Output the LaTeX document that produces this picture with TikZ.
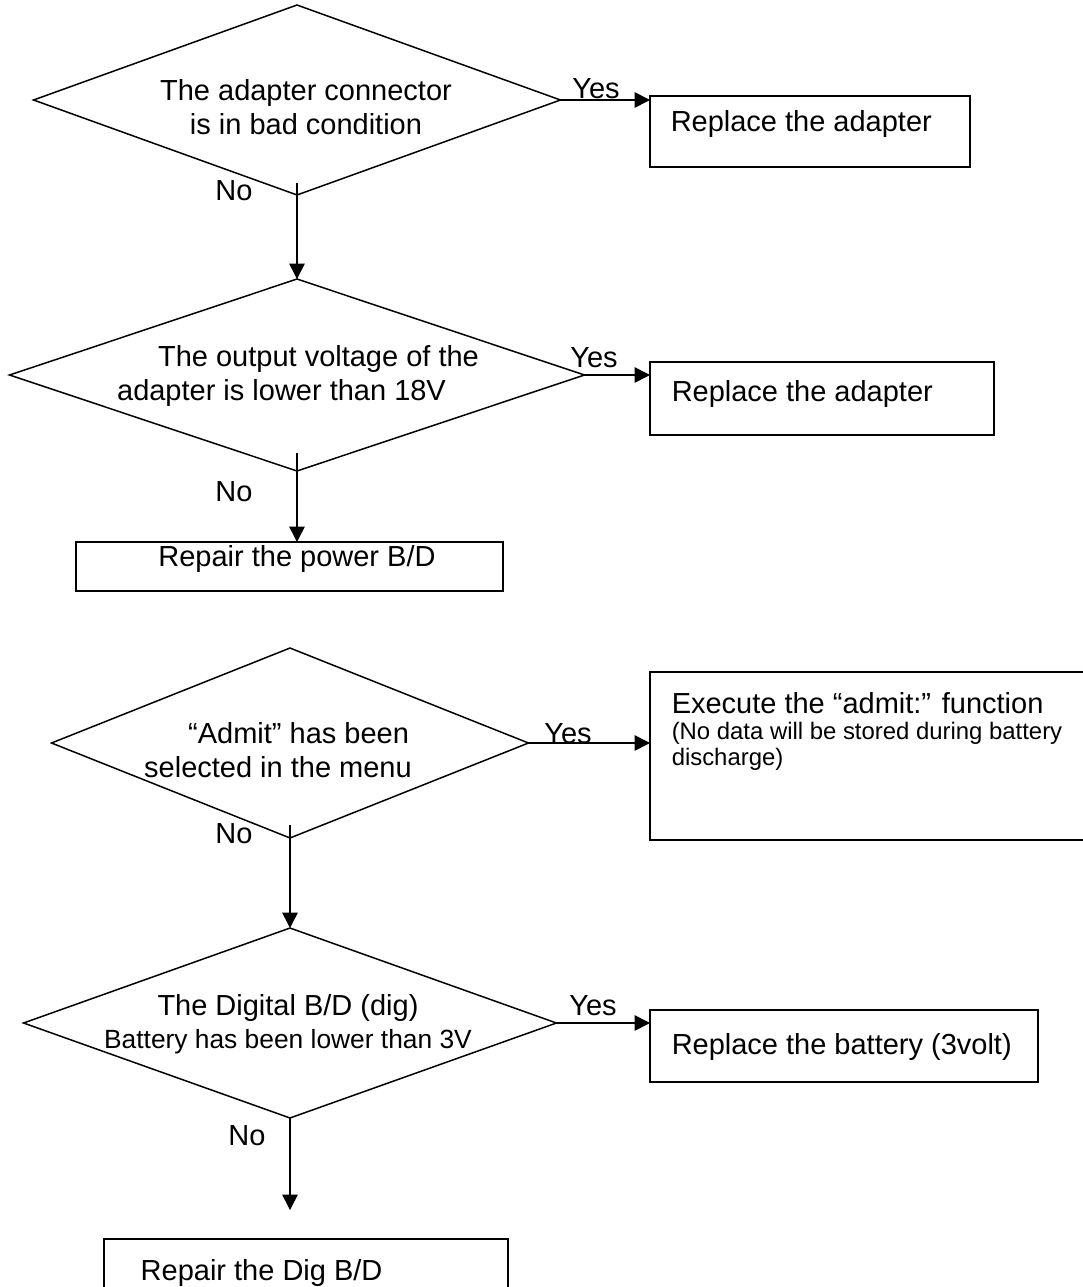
\documentclass[tikz,border=0pt]{standalone}
\usepackage{fontspec}
\setmainfont{Liberation Sans}
\usetikzlibrary{arrows.meta,positioning,shapes.geometric,calc}

\begin{document}
\begin{tikzpicture}[x=0.02cm,y=-0.02cm,line width=0.85pt,
  decision/.style={draw,diamond,inner sep=0pt,outer sep=0pt},
  procbox/.style={draw,rectangle,inner sep=0pt,outer sep=0pt},
  txt/.style={inner sep=0pt,font=\fontsize{16.5}{19}\selectfont},
  smalltxt/.style={inner sep=0pt,font=\fontsize{13.6}{14.7}\selectfont},
  flowarrow/.style={-{Triangle[length=0.31cm,width=0.31cm]}}]
  \useasboundingbox (0,0) rectangle (1082,1287);

  % decisions
  \node[decision,minimum width=10.54cm,minimum height=3.8cm] (d1) at (297,100) {};
  \node[decision,minimum width=11.5cm,minimum height=3.84cm] (d2) at (297,375) {};
  \node[decision,minimum width=9.54cm,minimum height=3.8cm] (d3) at (290,743) {};
  \node[decision,minimum width=10.66cm,minimum height=3.8cm] (d4) at (290,1023) {};

  \node[txt,align=center] (t1) at (306,107) {The adapter connector\\is in bad condition};
  \node[txt,align=left] (t2) at (298,376) {\hspace*{0.82cm}The output voltage of the\\adapter is lower than 18V};
  \node[txt,align=left] (t3) at (278,750) {\hspace*{0.88cm}“Admit” has been\\selected in the menu};
  \node[txt,align=center] (t4) at (288,1024) {The Digital B/D (dig)\\{\fontsize{15}{18}\selectfont Battery has been lower than 3V}};

  % actions
  \node[procbox,minimum width=6.4cm,minimum height=1.42cm] (b1) at (810,131.5) {};
  \node[procbox,minimum width=6.88cm,minimum height=1.46cm] (b2) at (822,398.5) {};
  \node[procbox,minimum width=8.54cm,minimum height=0.98cm] (b3) at (289.5,566.5) {};
  \node[procbox,minimum width=8.72cm,minimum height=3.36cm] (b4) at (868,756) {};
  \node[procbox,minimum width=7.76cm,minimum height=1.44cm] (b6) at (844,1046) {};
  \node[procbox,minimum width=8.08cm,minimum height=1.22cm] (b5) at (306,1269.5) {};

  \node[txt,anchor=west] (a1) at (670,124) {Replace the adapter};
  \node[txt,anchor=west] (a2) at (671,394) {Replace the adapter};
  \node[txt] (a3) at (297,559) {Repair the power B/D};
  \node[txt,anchor=west] (a4) at (671,703) {Execute the “admit:” function};
  \node[smalltxt,anchor=west,align=left] (a4n) at (671,746) {(No data will be stored during battery\\discharge)};
  \node[txt,anchor=west] (a6) at (671,1047) {Replace the battery (3volt)};
  \node[txt,anchor=west] (a5) at (140,1273) {Repair the Dig B/D};

  % yes / no
  \node[txt] (y1) at (596,89) {Yes};
  \node[txt] (y2) at (594,358) {Yes};
  \node[txt] (y3) at (568,734) {Yes};
  \node[txt] (y4) at (593,1006) {Yes};
  \node[txt] (n1) at (234,191) {No};
  \node[txt] (n2) at (234,492) {No};
  \node[txt] (n3) at (234,834) {No};
  \node[txt] (n4) at (247,1136) {No};

  % connectors
  \draw[flowarrow] (d1.east) -- (d1.east -| b1.west);
  \draw[flowarrow] (d2.east) -- (d2.east -| b2.west);
  \draw[flowarrow] (d3.east) -- (d3.east -| b4.west);
  \draw[flowarrow] (d4.east) -- (d4.east -| b6.west);
  \draw[flowarrow] ($(d1.south)+(0,-12)$) -- (d2.north);
  \draw[flowarrow] ($(d2.south)+(0,-18)$) -- (d2.south |- b3.north);
  \draw[flowarrow] ($(d3.south)+(0,-13)$) -- (d4.north);
  \draw[flowarrow,shorten >=0.58cm] (d4.south) -- (d4.south |- b5.north);
\end{tikzpicture}
\end{document}
